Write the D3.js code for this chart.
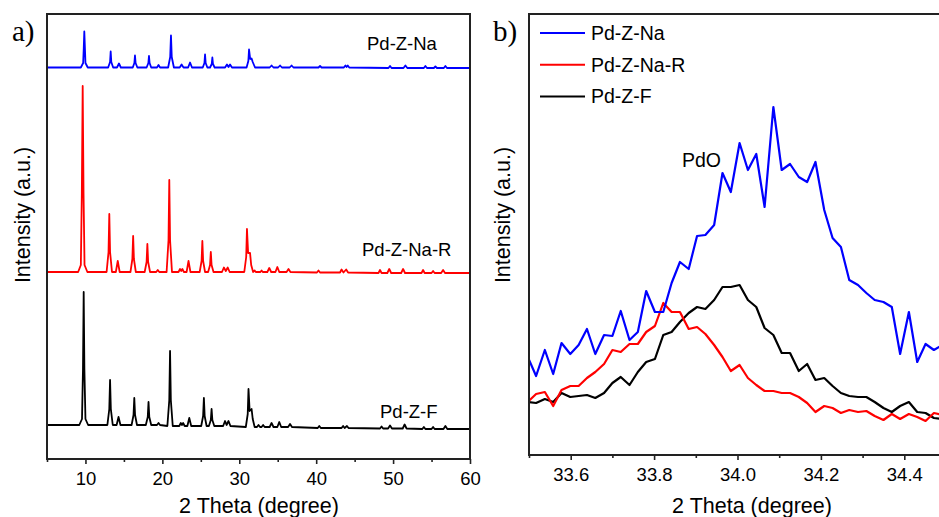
<!DOCTYPE html>
<html>
<head>
<meta charset="utf-8">
<script src="https://cdn.jsdelivr.net/npm/d3@7"></script>
<style>
  html, body { margin: 0; padding: 0; background: #fff; }
  svg { display: block; font-family: "Liberation Sans", Arial, sans-serif; }
  .tick text { font-size: 18.5px; fill: #000; }
  .tick line { stroke: #222; stroke-width: 1.6; }
</style>
</head>
<body>
<svg id="chart" width="939" height="517"></svg>
<script>
// ---------- panel a: full XRD patterns (2 theta, intensity a.u.) ----------
const seriesNames = ["Pd-Z-Na", "Pd-Z-Na-R", "Pd-Z-F"];
const seriesColors = ["#0000ff", "#ff0000", "#000000"];
// vertical stacking offset of each pattern in panel a
const stackOffsets = [361, 156, 0];

const patternNa = [
  [5,30.5],
  [9.4,30.5],[9.7,35],[9.78,50],[9.85,66.5],[9.93,50],[10.0,35],[10.3,30.5],
  [12.95,30.5],[13.2,36],[13.28,46.5],[13.36,36],[13.6,30.5],
  [14.1,30.5],[14.36,34.5],[14.6,30.5],
  [16.15,30.5],[16.36,35],[16.44,42.5],[16.52,35],[16.75,30.5],
  [17.95,30.5],[18.18,35],[18.26,42],[18.34,35],[18.55,30.5],
  [19.3,30.5],[19.5,33],[19.7,30.5],
  [20.75,30.5],[21.02,41],[21.12,62.5],[21.22,41],[21.5,30.5],
  [22.25,30.5],[22.5,33.5],[22.75,30.5],
  [23.35,30.5],[23.6,35.5],[23.85,30.5],
  [25.25,30.5],[25.47,35],[25.55,43.5],[25.63,35],[25.85,30.5],
  [26.2,30.5],[26.42,34],[26.5,40.5],[26.58,34],[26.8,30.5],
  [28.15,30.5],[28.4,33.5],[28.6,31],[28.8,33.5],[29.05,30.5],
  [30.95,30.5],[31.18,37],[31.27,48.5],[31.42,39],[31.6,39.5],[31.75,36],[32.05,30.5],
  [33.95,30.5],[34.2,32.5],[34.45,30.5],
  [35.05,30.5],[35.3,32.5],[35.55,30.5],
  [36.55,30.5],[36.8,32.5],[37.05,30.5],
  [40.3,30.5],[40.5,32],[40.7,30.5],
  [43.6,30.5],[43.8,32.5],[43.95,31],[44.1,32.5],[44.3,30.5],
  [49.4,30],[49.6,32],[49.8,30],
  [51.35,30],[51.6,32.5],[51.85,30],
  [54.0,30],[54.2,32],[54.4,30],
  [55.3,30],[55.5,31.5],[55.7,30],
  [56.6,30],[56.8,32],[57.0,30],
  [60,30]
];

const patternNaR = [
  [5,31],
  [9.05,31],[9.4,38],[9.53,110],[9.64,217],[9.75,110],[9.88,38],[10.25,31],
  [12.75,31],[13.0,51],[13.1,89],[13.2,51],[13.45,31],
  [13.95,31],[14.2,42],[14.45,31],
  [15.85,31],[16.1,44],[16.2,67],[16.3,44],[16.55,31],
  [17.7,31],[17.95,41],[18.05,59],[18.15,41],[18.4,31],
  [19.2,31],[19.4,33],[19.6,31],
  [20.55,31],[20.8,63],[20.9,123],[21.0,63],[21.25,31],
  [22.1,31],[22.3,34],[22.45,32],[22.6,34],[22.8,31],
  [23.15,31],[23.4,42],[23.65,31],
  [24.85,31],[25.1,42],[25.2,62],[25.3,42],[25.55,31],
  [25.95,31],[26.2,38],[26.3,51],[26.4,38],[26.65,31],
  [27.75,31],[28.0,35.5],[28.25,32],[28.5,35.5],[28.75,31],
  [30.65,31],[30.9,46],[31.0,74],[31.15,50],[31.4,50],[31.55,38],[31.8,31],
  [32.0,32.5],[32.15,31],[32.75,31],[32.9,32.5],[33.05,31],
  [33.65,31],[33.9,35],[34.15,31],
  [34.7,31],[34.95,36],[35.2,31],
  [36.15,31],[36.4,34],[36.65,31],
  [40.1,30.5],[40.3,32.5],[40.5,30.5],
  [43.1,30.5],[43.3,33.5],[43.55,30.5],[43.9,33.5],[44.15,30.5],
  [48.1,30],[48.3,33],[48.5,30],
  [49.25,30],[49.5,34],[49.75,30],
  [51.05,30],[51.3,34],[51.55,30],
  [53.7,30],[53.9,33],[54.1,30],
  [55.0,30],[55.2,32],[55.4,30],
  [56.25,30],[56.5,33],[56.75,30],
  [60,30]
];

const patternF = [
  [5,34],
  [9.2,34],[9.55,40],[9.68,90],[9.77,167],[9.86,90],[10.0,40],[10.35,34],
  [12.85,34],[13.1,50],[13.2,79],[13.3,50],[13.55,34],
  [14.05,34],[14.3,42],[14.55,34],
  [16.0,34],[16.25,44],[16.35,61],[16.45,44],[16.7,34],
  [17.85,34],[18.1,42],[18.2,57],[18.3,42],[18.55,34],
  [19.3,34],[19.5,36],[19.7,34],
  [20.65,33],[20.9,59],[21.0,108],[21.1,59],[21.35,33],
  [22.2,33],[22.4,36],[22.55,34],[22.7,36],[22.9,33],
  [23.25,33],[23.5,41],[23.75,33],
  [25.05,33],[25.3,43],[25.4,61],[25.5,43],[25.75,33],
  [26.05,33],[26.3,39],[26.4,50],[26.5,39],[26.75,33],
  [27.9,33],[28.15,38],[28.35,34],[28.6,38],[28.85,33],
  [30.85,32],[31.1,45],[31.2,70],[31.35,48],[31.6,50],[31.75,40],[32.0,32],
  [32.3,32],[32.5,34],[32.7,32],[32.9,32],[33.1,34],[33.3,32],
  [33.95,32],[34.2,36],[34.45,32],
  [34.95,32],[35.2,37],[35.45,32],
  [36.35,32],[36.6,35],[36.85,32],
  [40.2,31],[40.4,33],[40.6,31],
  [43.3,31],[43.5,33],[43.7,31],[44.0,33],[44.2,31],
  [48.3,30.5],[48.5,32.5],[48.7,30.5],
  [49.35,30.5],[49.6,33.5],[49.85,30.5],
  [51.25,30.5],[51.5,34.5],[51.75,30.5],
  [53.8,30],[54.0,32],[54.2,30],
  [55.0,30],[55.2,32],[55.4,30],
  [56.55,30],[56.8,33],[57.05,30],
  [60,30]
];

const patternsA = [patternNa, patternNaR, patternF];
const ticksA = [10, 20, 30, 40, 50, 60];
const minorTicksA = [5, 15, 25, 35, 45, 55];

// ---------- panel b: zoom on the PdO reflection ----------
const thetaB = [
  33.497, 33.517, 33.538, 33.558, 33.578, 33.599, 33.619, 33.639, 33.659, 33.680,
  33.700, 33.720, 33.741, 33.761, 33.781, 33.802, 33.822, 33.842, 33.862, 33.883,
  33.903, 33.923, 33.944, 33.964, 33.984, 34.005, 34.025, 34.045, 34.065, 34.086,
  34.106, 34.126, 34.147, 34.167, 34.187, 34.208, 34.228, 34.248, 34.268, 34.289,
  34.309, 34.329, 34.350, 34.370, 34.390, 34.411, 34.431, 34.451, 34.471, 34.492,
  34.512
];
const zoomNa = [
  98, 79, 105, 81, 112, 101, 110, 126, 101, 120,
  119, 144, 115, 123, 164, 143, 143, 172, 193, 186,
  219, 220, 230, 282, 263, 312, 285, 301, 248, 348,
  285, 291, 278, 273, 293, 245, 217, 208, 175, 170,
  162, 155, 153, 148, 101, 143, 93, 111, 105, 110,
  105
];
const zoomNaR = [
  53, 61, 63, 49, 65, 69, 69, 77, 83, 91,
  105, 103, 111, 111, 123, 129, 152, 143, 143, 126,
  128, 121, 110, 98, 84, 90, 77, 70, 64, 64,
  62, 62, 58, 52, 43, 49, 47, 42, 45, 43,
  44, 39, 35, 41, 36, 41, 38, 34, 42, 40,
  39
];
const zoomF = [
  53, 52, 56, 53, 62, 58, 59, 60, 57, 62,
  72, 78, 70, 83, 93, 96, 120, 123, 133, 142,
  148, 146, 155, 168, 168, 170, 155, 148, 127, 120,
  102, 102, 84, 91, 75, 77, 69, 62, 59, 58,
  58, 53, 47, 43, 49, 53, 43, 42, 37, 36,
  35
];
const zoomSeries = [zoomNa, zoomNaR, zoomF];
const ticksB = [33.6, 33.8, 34.0, 34.2, 34.4];
const minorTicksB = [33.5, 33.7, 33.9, 34.1, 34.3, 34.5];

const svg = d3.select("#chart");

svg.append("rect").attr("width", 939).attr("height", 517).attr("fill", "#fff");

//Panel geometry
const A = { left: 47, top: 14, right: 470, bottom: 459 };
const B = { left: 529, top: 14, right: 946, bottom: 455 };

// ===== panel a =====
const xA = d3.scaleLinear().domain([5, 60]).range([A.left, A.right]);
const yA = d3.scaleLinear().domain([0, 445]).range([A.bottom, A.top]);

svg.append("clipPath").attr("id", "clipA")
  .append("rect")
  .attr("x", A.left).attr("y", A.top)
  .attr("width", A.right - A.left).attr("height", A.bottom - A.top);

const gA = svg.append("g").attr("clip-path", "url(#clipA)");

patternsA.forEach((pts, i) => {
  const line = d3.line()
    .x((d) => xA(d[0]))
    .y((d) => yA(d[1] + stackOffsets[i]));
  gA.append("path")
    .datum(pts)
    .attr("d", line)
    .attr("fill", "none")
    .attr("stroke", seriesColors[i])
    .attr("stroke-width", 1.8)
    .attr("stroke-linejoin", "round");
});

//Axis with major and minor ticks
svg.append("g")
  .attr("transform", `translate(0, ${A.bottom})`)
  .call(d3.axisBottom(xA).tickValues(ticksA).tickSize(5).tickSizeOuter(0).tickPadding(8))
  .call((g) => g.select(".domain").remove());
svg.append("g")
  .attr("transform", `translate(0, ${A.bottom})`)
  .call(d3.axisBottom(xA).tickValues(minorTicksA).tickSize(3).tickFormat(""))
  .call((g) => g.select(".domain").remove());

svg.append("rect")
  .attr("x", A.left).attr("y", A.top)
  .attr("width", A.right - A.left).attr("height", A.bottom - A.top)
  .attr("fill", "none").attr("stroke", "#222").attr("stroke-width", 2);

//Curve labels
const labelPosA = [
  { x: 367, y: 50 },
  { x: 362, y: 256 },
  { x: 380, y: 418 },
];
seriesNames.forEach((name, i) => {
  svg.append("text")
    .attr("x", labelPosA[i].x).attr("y", labelPosA[i].y)
    .attr("font-size", 18.5)
    .text(name);
});

// ===== panel b =====
const xB = d3.scaleLinear().domain([33.5, 34.5]).range([B.left, B.right]);
const yB = d3.scaleLinear().domain([0, 441]).range([B.bottom, B.top]);

svg.append("clipPath").attr("id", "clipB")
  .append("rect")
  .attr("x", B.left).attr("y", B.top)
  .attr("width", B.right - B.left).attr("height", B.bottom - B.top);

const gB = svg.append("g").attr("clip-path", "url(#clipB)");

// draw black first, blue on top
[2, 1, 0].forEach((i) => {
  const line = d3.line()
    .x((d, k) => xB(thetaB[k]))
    .y((d) => yB(d));
  gB.append("path")
    .datum(zoomSeries[i])
    .attr("d", line)
    .attr("fill", "none")
    .attr("stroke", seriesColors[i])
    .attr("stroke-width", 2.2)
    .attr("stroke-linejoin", "round");
});

svg.append("g")
  .attr("transform", `translate(0, ${B.bottom})`)
  .call(d3.axisBottom(xB).tickValues(ticksB).tickFormat(d3.format(".1f")).tickSize(5).tickSizeOuter(0).tickPadding(8))
  .call((g) => g.select(".domain").remove());
svg.append("g")
  .attr("transform", `translate(0, ${B.bottom})`)
  .call(d3.axisBottom(xB).tickValues(minorTicksB).tickSize(3).tickFormat(""))
  .call((g) => g.select(".domain").remove());

svg.append("rect")
  .attr("x", B.left).attr("y", B.top)
  .attr("width", B.right - B.left).attr("height", B.bottom - B.top)
  .attr("fill", "none").attr("stroke", "#222").attr("stroke-width", 2);

//Legend
const legend = svg.append("g").attr("transform", "translate(540, 33)");
seriesNames.forEach((name, i) => {
  const row = legend.append("g").attr("transform", `translate(0, ${i * 31.7})`);
  row.append("line")
    .attr("x1", 0).attr("x2", 45)
    .attr("stroke", seriesColors[i]).attr("stroke-width", 2);
  row.append("text")
    .attr("x", 51).attr("y", 7)
    .attr("font-size", 19.5)
    .text(name);
});

svg.append("text")
  .attr("x", 682).attr("y", 167)
  .attr("font-size", 19.5)
  .text("PdO");

// ===== titles =====
const axisTitles = [
  { x: 259, text: "2 Theta (degree)" },
  { x: 752, text: "2 Theta (degree)" },
];
axisTitles.forEach((t) => {
  svg.append("text")
    .attr("x", t.x).attr("y", 513)
    .attr("text-anchor", "middle")
    .attr("font-size", 21.5)
    .text(t.text);
});

[30, 510].forEach((x) => {
  svg.append("text")
    .attr("transform", `translate(${x}, 215) rotate(-90)`)
    .attr("text-anchor", "middle")
    .attr("font-size", 21.5)
    .text("Intensity (a.u.)");
});

svg.append("text")
  .attr("x", 12).attr("y", 41)
  .attr("font-family", "'Liberation Serif', 'Times New Roman', serif")
  .attr("font-size", 29)
  .text("a)");
svg.append("text")
  .attr("x", 493).attr("y", 41)
  .attr("font-family", "'Liberation Serif', 'Times New Roman', serif")
  .attr("font-size", 29)
  .text("b)");
</script>
</body>
</html>
